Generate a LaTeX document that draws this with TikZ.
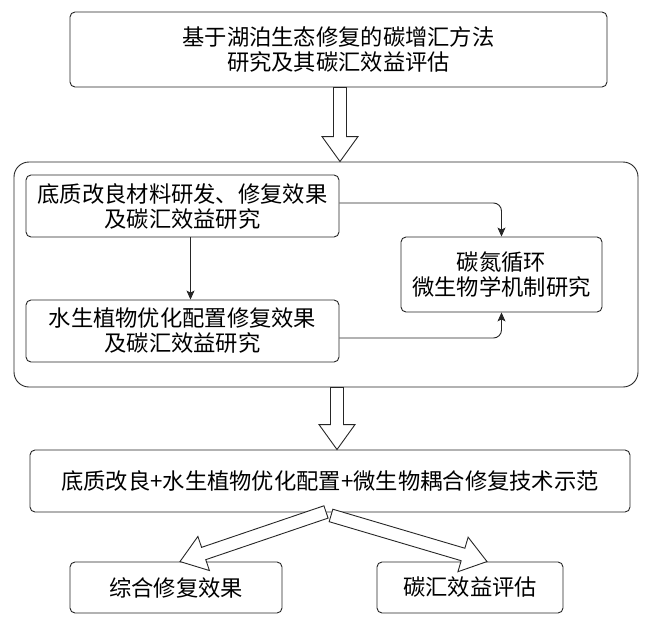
\documentclass[tikz,border=0pt]{standalone}
\usepackage{fontspec}
\setmainfont{Noto Sans CJK SC}
\usetikzlibrary{calc,arrows.meta}
\newcommand\fatarrow[2]{%
  \coordinate (fh) at ($(#2)!25pt!(#1)$);
  \draw[fatstyle] ($(#1)!6.5pt!90:(#2)$) -- ($(fh)!6.5pt!90:(#2)$) -- ($(fh)!18pt!90:(#2)$) -- (#2)
     -- ($(fh)!18pt!-90:(#2)$) -- ($(fh)!6.5pt!-90:(#2)$) -- ($(#1)!6.5pt!-90:(#2)$) -- cycle;
}
\begin{document}
\begin{tikzpicture}[x=1pt,y=-1pt,
  box/.style={draw=black!85, line width=0.9pt, rounded corners=5pt, fill=white,
     align=center, inner sep=0pt, font=\fontsize{22.3}{25}\selectfont},
  outerbox/.style={draw=black!85, line width=0.9pt, rounded corners=15pt},
  conn/.style={draw=black!85, line width=0.9pt, rounded corners=8pt,
     -{Stealth[length=9pt,width=8pt,inset=2pt]}},
  fatstyle/.style={draw=black!85, line width=0.9pt, fill=white, line join=miter}]
\useasboundingbox (0,0) rectangle (665,624);
\node[box, minimum width=537pt, minimum height=75pt] (top) at (338.5,49.5)
  {基于湖泊生态修复的碳增汇方法\\研究及其碳汇效益评估};
\node[outerbox, minimum width=624pt, minimum height=225pt] (outer) at (326,274.5) {};
\node[box, minimum width=313pt, minimum height=62pt] (A) at (182.5,206)
  {底质改良材料研发、修复效果\\及碳汇效益研究};
\node[box, minimum width=313pt, minimum height=62pt] (B) at (182.5,331)
  {水生植物优化配置修复效果\\及碳汇效益研究};
\node[box, minimum width=201pt, minimum height=75pt] (C) at (501.5,274.5)
  {碳氮循环\\微生物学机制研究};
\node[box, minimum width=600pt, minimum height=62pt] (W) at (330,481)
  {底质改良+水生植物优化配置+微生物耦合修复技术示范};
\node[box, minimum width=212pt, minimum height=51pt] (BL) at (176,587.5) {综合修复效果};
\node[box, minimum width=186pt, minimum height=51pt] (BR) at (470,587.5) {碳汇效益评估};
% thin connectors
\draw[conn] ([xshift=8pt]A.south) -- ([xshift=8pt]B.north);
\draw[conn] ([yshift=3pt]A.east) -| (C.north);
\draw[conn] ([yshift=-7pt]B.east) -| (C.south);
% fat arrows
\coordinate (t1) at ([xshift=1.5pt]top.south);
\coordinate (t2) at (t1 |- outer.north);
\fatarrow{t1}{t2}
\coordinate (m1) at ([xshift=11pt]outer.south);
\coordinate (m2) at (m1 |- W.north);
\fatarrow{m1}{m2}
\coordinate (l1) at ([xshift=-4pt,yshift=0.5pt]W.south);
\coordinate (l2) at ([xshift=4pt]BL.north);
\fatarrow{l1}{l2}
\coordinate (r1) at ([xshift=1pt,yshift=-3pt]W.south);
\coordinate (r2) at ([xshift=17pt]BR.north);
\fatarrow{r1}{r2}
\end{tikzpicture}
\end{document}
